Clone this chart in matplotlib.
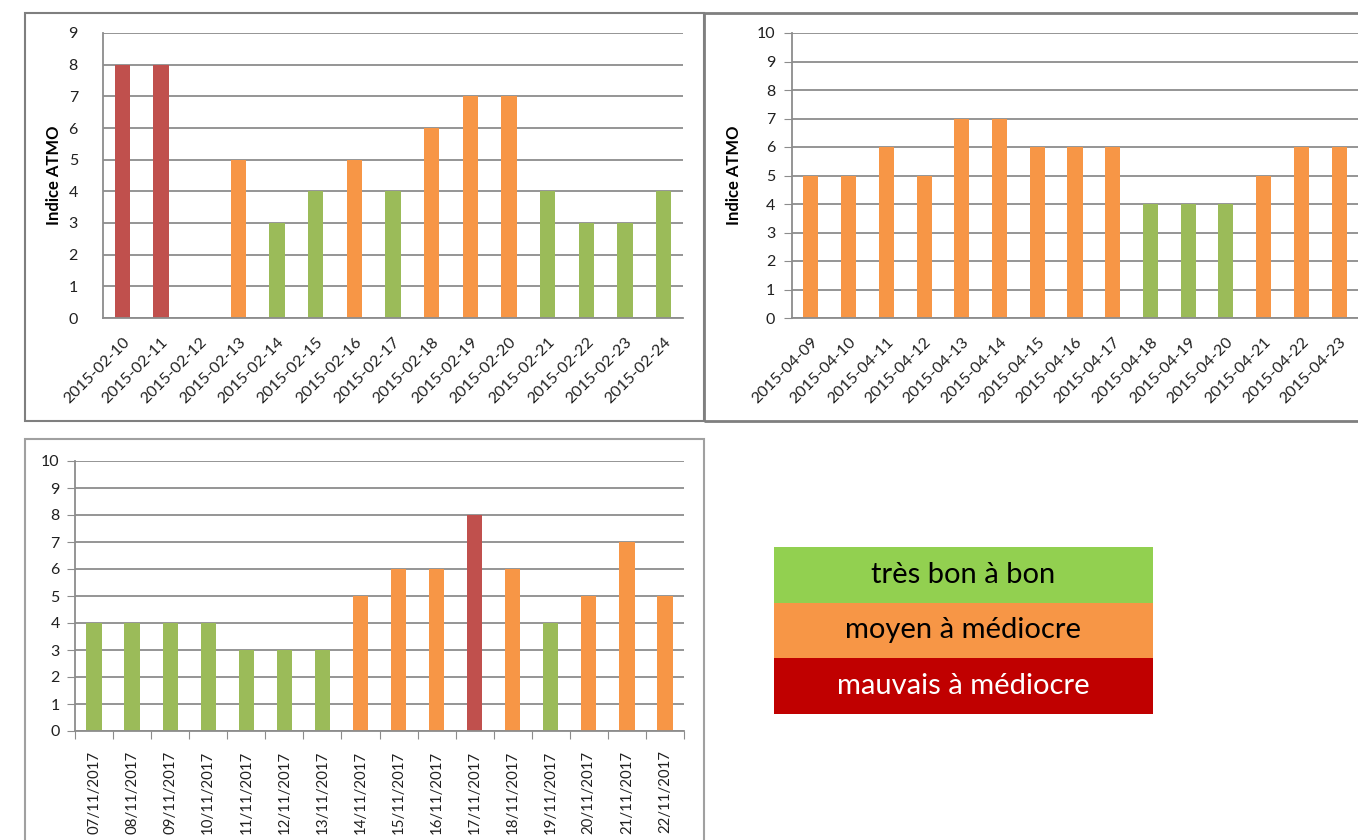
import matplotlib
matplotlib.use("Agg")
import matplotlib.pyplot as plt
from matplotlib.patches import Rectangle
import numpy as np

# Daily ATMO index, three periods
dates_feb = ["2015-02-10", "2015-02-11", "2015-02-12", "2015-02-13",
             "2015-02-14", "2015-02-15", "2015-02-16", "2015-02-17",
             "2015-02-18", "2015-02-19", "2015-02-20", "2015-02-21",
             "2015-02-22", "2015-02-23", "2015-02-24"]
atmo_feb = [8, 8, np.nan, 5, 3, 4, 5, 4, 6, 7, 7, 4, 3, 3, 4]

dates_apr = ["2015-04-09", "2015-04-10", "2015-04-11", "2015-04-12",
             "2015-04-13", "2015-04-14", "2015-04-15", "2015-04-16",
             "2015-04-17", "2015-04-18", "2015-04-19", "2015-04-20",
             "2015-04-21", "2015-04-22", "2015-04-23"]
atmo_apr = [5, 5, 6, 5, 7, 7, 6, 6, 6, 4, 4, 4, 5, 6, 6]

dates_nov = ["07/11/2017", "08/11/2017", "09/11/2017", "10/11/2017",
             "11/11/2017", "12/11/2017", "13/11/2017", "14/11/2017",
             "15/11/2017", "16/11/2017", "17/11/2017", "18/11/2017",
             "19/11/2017", "20/11/2017", "21/11/2017", "22/11/2017"]
atmo_nov = [4, 4, 4, 4, 3, 3, 3, 5, 6, 6, 8, 6, 4, 5, 7, 5]

legend_labels = ["très bon à bon", "moyen à médiocre", "mauvais à médiocre"]
legend_colors = ["#92D050", "#F79646", "#C00000"]
legend_text_colors = ["black", "black", "white"]

GREEN = "#9BBB59"
ORANGE = "#F79646"
RED = "#C0504D"
GRID = "#8C8C8C"

W, H = 1358, 840

plt.rcParams["font.family"] = ["Lato", "DejaVu Sans"]


def bar_color(v):
    if v >= 8:
        return RED
    if v >= 5:
        return ORANGE
    return GREEN


def px_rect(x0, y0, x1, y1):
    """pixel box (top-left origin) -> figure fraction [l, b, w, h]"""
    return [x0 / W, 1 - y1 / H, (x1 - x0) / W, (y1 - y0) / H]


def draw_panel(fig, box, dates, values, ymax, rot, ylabel_x, ticks_out,
               xticks_between, ypad, date_size):
    ax = fig.add_axes(px_rect(*box))
    x = np.arange(len(dates))
    vals = np.array(values, dtype=float)
    colors = [bar_color(v) if not np.isnan(v) else "none" for v in vals]
    ax.bar(x, np.nan_to_num(vals), width=0.4, color=colors, zorder=2)
    ax.set_xlim(-0.5, len(dates) - 0.5)
    ax.set_ylim(0, ymax)
    ax.set_yticks(range(0, ymax + 1))
    ax.yaxis.grid(True, color=GRID, lw=1.3, zorder=1)
    ax.set_axisbelow(True)
    for s in ("top", "right"):
        ax.spines[s].set_visible(False)
    for s in ("left", "bottom"):
        ax.spines[s].set_color(GRID)
        ax.spines[s].set_linewidth(1.3)
    ax.tick_params(axis="y", labelsize=11.5, colors="#202020",
                   length=6 if ticks_out else 0, color=GRID, pad=ypad)
    if xticks_between:
        # tick marks sit between the days, labels under each bar
        ax.set_xticks(np.arange(len(dates) + 1) - 0.5, minor=False)
        ax.set_xticklabels([])
        ax.set_xticks(x, minor=True)
        ax.set_xticklabels(dates, minor=True, rotation=rot, fontsize=date_size,
                           ha="center", va="top", color="#202020")
        ax.tick_params(axis="x", which="major", length=6, color=GRID)
        ax.tick_params(axis="x", which="minor", length=0, pad=14)
    else:
        ax.set_xticks(x)
        ax.set_xticklabels(dates, rotation=rot, fontsize=date_size, ha="right",
                           rotation_mode="anchor", color="#202020")
        ax.tick_params(axis="x", length=0, pad=12)
    if ylabel_x is not None:
        ax.set_ylabel("Indice ATMO", fontsize=12, fontweight="bold")
        width_px = box[2] - box[0]
        ax.yaxis.set_label_coords((ylabel_x - box[0]) / width_px, 0.5)
    return ax


fig = plt.figure(figsize=(W / 100, H / 100), dpi=100)

# panel frames
frames = [((25, 13, 704, 421), "#7F7F7F", 1.5),
          ((704, 13, 1370, 421), "#7F7F7F", 2.0),
          ((25, 439, 704, 850), "#A0A0A0", 1.5)]
for box, ec, lw in frames:
    l, b, w, h = px_rect(*box)
    fig.add_artist(Rectangle((l, b), w, h, transform=fig.transFigure,
                             fill=False, ec=ec, lw=lw, zorder=0))

draw_panel(fig, (103, 33, 683, 318), dates_feb, atmo_feb, 9, 45,
           62, False, False, 18, 11.5)
draw_panel(fig, (792, 33, 1358, 318), dates_apr, atmo_apr, 10, 45,
           742, True, False, 6, 11.5)
draw_panel(fig, (75, 461, 684, 731), dates_nov, atmo_nov, 10, 90,
           None, True, True, 5, 10.8)

# colour key for the index classes
row_h = 55.5
for i, (lab, col, tcol) in enumerate(zip(legend_labels, legend_colors,
                                         legend_text_colors)):
    y0 = 547 + i * row_h
    l, b, w, h = px_rect(774, y0, 1153, y0 + row_h)
    fig.add_artist(Rectangle((l, b), w, h, transform=fig.transFigure,
                             fc=col, ec="none"))
    fig.text(l + w / 2, b + h / 2, lab, ha="center", va="center",
             fontsize=21, color=tcol)

fig.savefig("out.png", dpi=100)
